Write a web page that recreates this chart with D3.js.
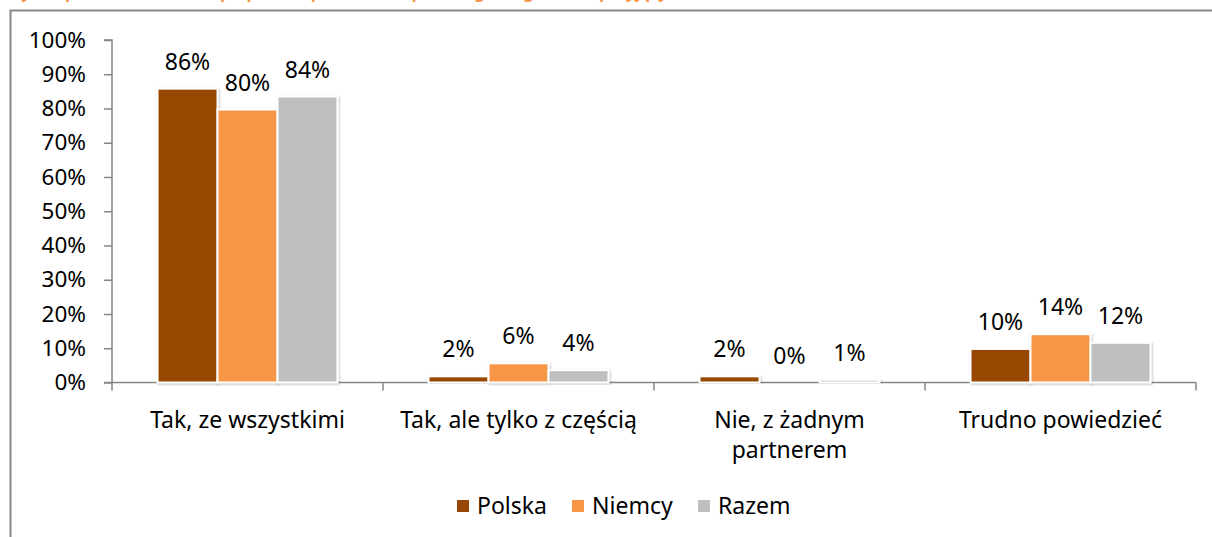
<!DOCTYPE html>
<html>
<head>
<meta charset="utf-8">
<script src="https://cdn.jsdelivr.net/npm/d3@7"></script>
<style>
    body { margin: 0; background: #fff; }
    svg { display: block; }
    text { font-family: "Noto Sans", "DejaVu Sans", sans-serif; fill: #000; }
</style>
</head>
<body>
<svg id="chart" width="1212" height="537"></svg>
<script>
const categories = [
    ["Tak, ze wszystkimi"],
    ["Tak, ale tylko z częścią"],
    ["Nie, z żadnym", "partnerem"],
    ["Trudno powiedzieć"]
];
const seriesNames = ["Polska", "Niemcy", "Razem"];
const seriesColors = ["#974706", "#F79646", "#BFBFBF"];
const polska = [85.8, 1.8, 1.8, 9.8];
const niemcy = [79.7, 5.6, 0, 14.1];
const razem = [83.5, 3.6, 0.8, 11.6];
const yTicks = [0, 10, 20, 30, 40, 50, 60, 70, 80, 90, 100];
const titleText = "Czy w opinii Pana/Pani współpraca z partnerami przebiegała zgodnie z przyjętymi ustaleniami?";

const series = [polska, niemcy, razem];
const svg = d3.select("#chart");

// title sits above the frame and is mostly cut off, as in the source
svg.append("text")
    .attr("x", 2)
    .attr("y", -2)
    .attr("font-size", "17px")
    .attr("font-weight", "bold")
    .style("fill", "#F79646")
    .text(titleText);

// chart frame, runs off the right and bottom edge
svg.append("path")
    .attr("d", "M10.5,537 V10.5 H1212")
    .attr("fill", "none")
    .attr("stroke", "#888")
    .attr("stroke-width", 2);

const defs = svg.append("defs");
const shadow = defs.append("filter").attr("id", "shadow")
    .attr("x", "-10%").attr("y", "-10%").attr("width", "130%").attr("height", "130%");
shadow.append("feDropShadow")
    .attr("dx", 1).attr("dy", 1).attr("stdDeviation", 1.2)
    .attr("flood-color", "#000").attr("flood-opacity", 0.25);

const plotLeft = 112, plotRight = 1196, plotTop = 40, plotBottom = 382.5;

const x0 = d3.scaleBand()
    .domain(d3.range(categories.length))
    .range([plotLeft, plotRight])
    .paddingInner(0.336)
    .paddingOuter(0.168);

const x1 = d3.scaleBand()
    .domain(d3.range(seriesNames.length))
    .range([0, x0.bandwidth()]);

const y = d3.scaleLinear().domain([0, 100]).range([plotBottom, plotTop]);

// y axis
const yAxis = svg.append("g")
    .attr("transform", `translate(${plotLeft},0)`)
    .call(d3.axisLeft(y).tickValues(yTicks).tickSize(8).tickPadding(18).tickFormat(d => d + "%"));
yAxis.selectAll("path, line").attr("stroke", "#868686").attr("stroke-width", 1.5);
yAxis.select(".domain").attr("d", `M-8,${plotBottom}H0V${plotTop}H-8`);
yAxis.selectAll("text")
    .attr("font-size", "22.5px")
    .attr("font-family", "Noto Sans, sans-serif")
    .attr("fill", "#000");

// x axis line and tick marks between groups
svg.append("line")
    .attr("x1", plotLeft).attr("x2", plotRight)
    .attr("y1", plotBottom).attr("y2", plotBottom)
    .attr("stroke", "#868686").attr("stroke-width", 1.5);
svg.selectAll(".xtick")
    .data(d3.range(categories.length + 1))
    .enter().append("line")
    .attr("x1", i => plotLeft + x0.step() * i)
    .attr("x2", i => plotLeft + x0.step() * i)
    .attr("y1", plotBottom).attr("y2", plotBottom + 8)
    .attr("stroke", "#868686").attr("stroke-width", 1.5);

// bars
const groups = svg.append("g").selectAll("g")
    .data(categories)
    .enter().append("g")
    .attr("transform", (d, i) => `translate(${x0(i)},0)`);

groups.each(function(cat, ci) {
    const g = d3.select(this);
    series.forEach((vals, si) => {
        const v = vals[ci];
        g.append("rect")
            .attr("x", x1(si))
            .attr("y", y(v))
            .attr("width", x1.bandwidth())
            .attr("height", plotBottom - y(v))
            .attr("fill", seriesColors[si])
            .attr("stroke", "#fff")
            .attr("stroke-width", 2)
            .attr("filter", v > 0 ? "url(#shadow)" : null);
        g.append("text")
            .attr("x", x1(si) + x1.bandwidth() / 2)
            .attr("y", y(v) - 27)
            .attr("dy", "0.35em")
            .attr("text-anchor", "middle")
            .attr("font-size", "23px")
            .text(Math.round(v) + "%");
    });
});

// category labels
svg.append("g").selectAll("text")
    .data(categories)
    .enter().append("text")
    .attr("x", (d, i) => x0(i) + x0.bandwidth() / 2)
    .attr("y", 428)
    .attr("text-anchor", "middle")
    .attr("font-size", "23px")
    .each(function(lines) {
        const cx = d3.select(this).attr("x");
        d3.select(this).selectAll("tspan")
            .data(lines)
            .enter().append("tspan")
            .attr("x", cx)
            .attr("dy", (d, i) => i === 0 ? 0 : 30)
            .text(d => d);
    });

// legend
const legendX = [457, 572, 698];
const legend = svg.append("g").selectAll("g")
    .data(seriesNames)
    .enter().append("g")
    .attr("transform", (d, i) => `translate(${legendX[i]},506)`);
legend.append("rect")
    .attr("x", 0).attr("y", -6)
    .attr("width", 12).attr("height", 12)
    .attr("fill", (d, i) => seriesColors[i]);
legend.append("text")
    .attr("x", 20)
    .attr("dy", "0.35em")
    .attr("font-size", "23px")
    .text(d => d);
</script>
</body>
</html>
